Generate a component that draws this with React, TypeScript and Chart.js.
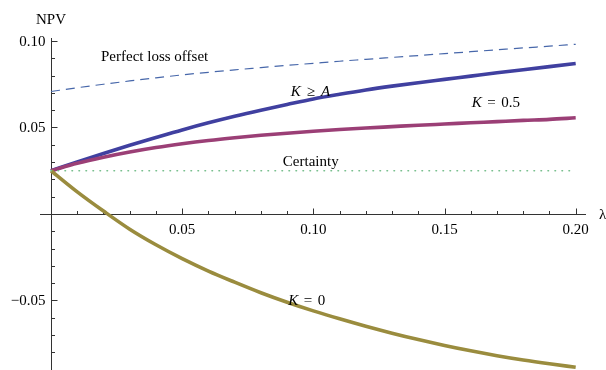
import React, { useEffect, useRef } from 'react';
import { Chart, registerables } from 'chart.js';

Chart.register(...registerables);

// ---- data ----
const lambdas = [0, 0.01, 0.02, 0.03, 0.04, 0.05, 0.06, 0.07, 0.08, 0.09, 0.1, 0.11, 0.12, 0.13, 0.14, 0.15, 0.16, 0.17, 0.18, 0.19, 0.2];
const perfectLossOffset = [0.0708, 0.073, 0.075, 0.0769, 0.0787, 0.0804, 0.0819, 0.0833, 0.0846, 0.0859, 0.0871, 0.0883, 0.0894, 0.0905, 0.0916, 0.0927, 0.0938, 0.0949, 0.096, 0.097, 0.0981];
const kGeA = [0.025, 0.0301, 0.035, 0.0397, 0.0442, 0.0486, 0.0527, 0.0565, 0.06, 0.0633, 0.0665, 0.0692, 0.0717, 0.0739, 0.0759, 0.0778, 0.0797, 0.0816, 0.0834, 0.0852, 0.087];
const kHalf = [0.025, 0.0293, 0.0328, 0.0358, 0.0384, 0.0406, 0.0425, 0.0441, 0.0455, 0.0467, 0.0478, 0.0488, 0.0497, 0.0505, 0.0513, 0.052, 0.0527, 0.0534, 0.0541, 0.0547, 0.0556];
const certainty = [0.025, 0.025, 0.025, 0.025, 0.025, 0.025, 0.025, 0.025, 0.025, 0.025, 0.025, 0.025, 0.025, 0.025, 0.025, 0.025, 0.025, 0.025, 0.025, 0.025, 0.025];
const kZero = [0.025, 0.0128, 0.0017, -0.0088, -0.0178, -0.0258, -0.033, -0.0394, -0.0455, -0.051, -0.056, -0.0606, -0.0649, -0.0689, -0.0726, -0.076, -0.0791, -0.0819, -0.0844, -0.0866, -0.0886];

const xTickValues = [0.05, 0.1, 0.15, 0.2];
const xTickLabels = ['0.05', '0.10', '0.15', '0.20'];
const yTickValues = [0.1, 0.05, -0.05];
const yTickLabels = ['0.10', '0.05', '\u22120.05'];
const xMinorTicks = [0.01, 0.02, 0.03, 0.04, 0.06, 0.07, 0.08, 0.09, 0.11, 0.12, 0.13, 0.14, 0.16, 0.17, 0.18, 0.19];
const yMinorTicks = [0.09, 0.08, 0.07, 0.06, 0.04, 0.03, 0.02, 0.01, -0.01, -0.02, -0.03, -0.04, -0.06, -0.07, -0.08, -0.09];
const xAxisTitle = '\u03bb';
const yAxisTitle = 'NPV';

type Seg = { t?: string; it?: boolean; gap?: number };
const curveLabels: { segs: Seg[]; at: [number, number] }[] = [
  { segs: [{ t: 'Perfect loss offset' }], at: [0.0395, 0.0886] },
  { segs: [{ t: 'K', it: true }, { gap: 6 }, { t: '\u2265' }, { gap: 6 }, { t: 'A', it: true }], at: [0.0989, 0.0684] },
  { segs: [{ t: 'K', it: true }, { gap: 5.5 }, { t: '=' }, { gap: 5.5 }, { t: '0.5' }], at: [0.1696, 0.0617] },
  { segs: [{ t: 'Certainty' }], at: [0.099, 0.0277] },
  { segs: [{ t: 'K', it: true }, { gap: 5.5 }, { t: '=' }, { gap: 5.5 }, { t: '0' }], at: [0.0975, -0.0526] },
];

const FONT = '"Liberation Serif", "Times New Roman", serif';

const axesPlugin = {
  id: 'mmaAxes',
  beforeDatasetsDraw(chart: any) {
    const { ctx, chartArea, scales } = chart;
    const xs = scales.x;
    const ys = scales.y;
    const x0 = Math.round(xs.getPixelForValue(0)) + 0.5;
    const y0 = Math.round(ys.getPixelForValue(0)) + 0.5;
    ctx.save();
    ctx.strokeStyle = '#333';
    ctx.lineWidth = 1;
    ctx.beginPath();
    ctx.moveTo(chartArea.left, y0);
    ctx.lineTo(chartArea.right, y0);
    ctx.moveTo(x0, chartArea.top);
    ctx.lineTo(x0, chartArea.bottom);
    // x ticks (upwards)
    xTickValues.forEach((v) => {
      const px = Math.round(xs.getPixelForValue(v)) + 0.5;
      ctx.moveTo(px, y0);
      ctx.lineTo(px, y0 - 6);
    });
    xMinorTicks.forEach((v) => {
      const px = Math.round(xs.getPixelForValue(v)) + 0.5;
      ctx.moveTo(px, y0);
      ctx.lineTo(px, y0 - 3.5);
    });
    // y ticks (rightwards)
    yTickValues.forEach((v) => {
      const py = Math.round(ys.getPixelForValue(v)) + 0.5;
      ctx.moveTo(x0, py);
      ctx.lineTo(x0 + 6, py);
    });
    yMinorTicks.forEach((v) => {
      const py = Math.round(ys.getPixelForValue(v)) + 0.5;
      ctx.moveTo(x0, py);
      ctx.lineTo(x0 + 3.5, py);
    });
    ctx.stroke();

    ctx.fillStyle = '#000';
    ctx.font = `15px ${FONT}`;
    ctx.textBaseline = 'alphabetic';
    ctx.textAlign = 'center';
    xTickValues.forEach((v, i) => {
      ctx.fillText(xTickLabels[i], xs.getPixelForValue(v), y0 + 19.5);
    });
    ctx.textAlign = 'right';
    yTickValues.forEach((v, i) => {
      ctx.fillText(yTickLabels[i], x0 - 6, ys.getPixelForValue(v) + 5);
    });
    ctx.textAlign = 'left';
    ctx.fillText(yAxisTitle, x0 - 15.5, chartArea.top - 14);
    ctx.fillText(xAxisTitle, chartArea.right + 13, y0 + 4);
    ctx.restore();
  },
  afterDatasetsDraw(chart: any) {
    const { ctx, scales } = chart;
    ctx.save();
    ctx.fillStyle = '#000';
    ctx.textBaseline = 'alphabetic';
    ctx.textAlign = 'left';
    curveLabels.forEach((lab) => {
      const fontOf = (s: Seg) => `${s.it ? 'italic ' : ''}15px ${FONT}`;
      let total = 0;
      lab.segs.forEach((s) => {
        if (s.gap) total += s.gap;
        else {
          ctx.font = fontOf(s);
          total += ctx.measureText(s.t!).width;
        }
      });
      let cx = scales.x.getPixelForValue(lab.at[0]) - total / 2;
      const by = scales.y.getPixelForValue(lab.at[1]);
      lab.segs.forEach((s) => {
        if (s.gap) cx += s.gap;
        else {
          ctx.font = fontOf(s);
          ctx.fillText(s.t!, cx, by);
          cx += ctx.measureText(s.t!).width;
        }
      });
    });
    ctx.restore();
  },
};

const toPts = (arr: number[]) => lambdas.map((l, i) => ({ x: l, y: arr[i] }));

export default function App() {
  const ref = useRef<HTMLCanvasElement>(null);
  useEffect(() => {
    const chart = new Chart(ref.current as HTMLCanvasElement, {
      type: 'line',
      data: {
        datasets: [
          { label: 'Certainty', data: toPts(certainty), borderColor: '#74bd8a', borderWidth: 1.6, borderDash: [0.5, 6.5], borderCapStyle: 'round', cubicInterpolationMode: 'monotone' } as any,
          { label: 'Perfect loss offset', data: toPts(perfectLossOffset), borderColor: '#4767aa', borderWidth: 1.2, borderDash: [9, 6], cubicInterpolationMode: 'monotone' } as any,
          { label: 'K = 0', data: toPts(kZero), borderColor: '#9a8c3e', borderWidth: 3.6, cubicInterpolationMode: 'monotone' } as any,
          { label: 'K = 0.5', data: toPts(kHalf), borderColor: '#9b3f76', borderWidth: 3.6, cubicInterpolationMode: 'monotone' } as any,
          { label: 'K >= A', data: toPts(kGeA), borderColor: '#4040a0', borderWidth: 3.6, cubicInterpolationMode: 'monotone' } as any,
        ],
      },
      options: {
        animation: false,
        responsive: false,
        devicePixelRatio: 1,
        layout: { padding: { left: 40, right: 20, top: 38, bottom: 0 } },
        plugins: { legend: { display: false }, tooltip: { enabled: false }, title: { display: false } },
        elements: { point: { radius: 0 } },
        scales: {
          x: { type: 'linear', min: -0.004193, max: 0.20393, display: false },
          y: { type: 'linear', min: -0.09018, max: 0.10173, display: false },
        },
      },
      plugins: [axesPlugin],
    });
    return () => chart.destroy();
  }, []);
  return (
    <div style={{ position: 'fixed', left: 0, top: 0, width: 606, height: 370, background: '#fff' }}>
      <canvas ref={ref} width={606} height={370} style={{ display: 'block' }} />
    </div>
  );
}
